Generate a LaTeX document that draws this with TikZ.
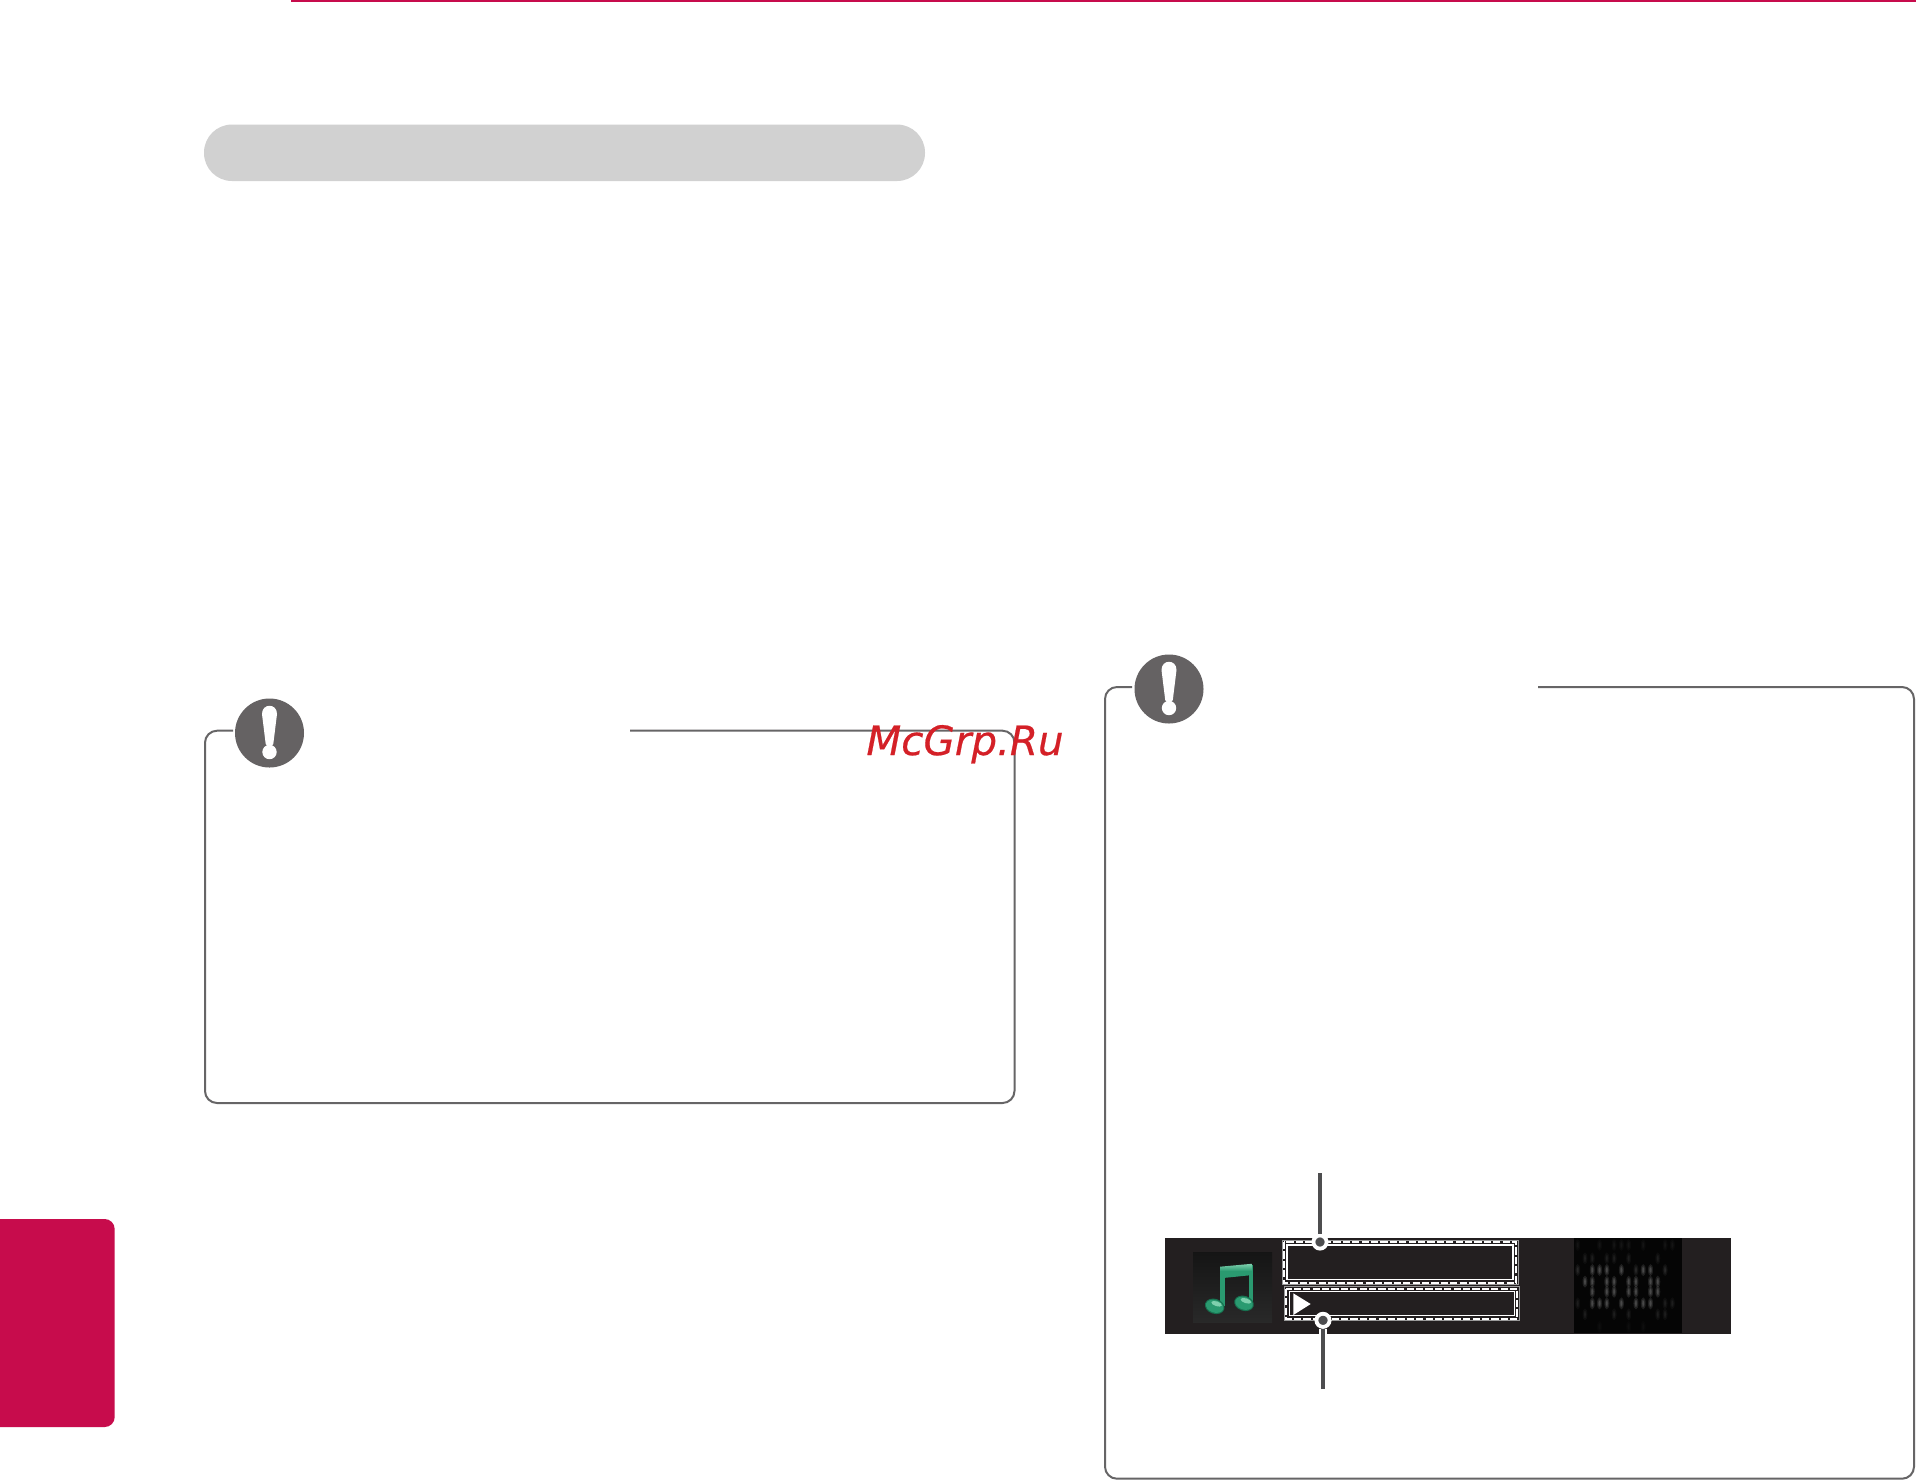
\documentclass[tikz,border=0pt]{standalone}
\usepackage{fontspec}
\usepackage{tikz}
\usetikzlibrary{shapes}
\newfontfamily\markfont[FakeBold=0.5]{DejaVu Sans}
\definecolor{crimson}{HTML}{C70C4C}
\definecolor{barfill}{HTML}{D1D1D1}
\definecolor{noteline}{HTML}{666566}
\definecolor{iconfill}{HTML}{656263}
\definecolor{stripfill}{HTML}{231F20}
\definecolor{calloutgray}{HTML}{4D4D4F}
\definecolor{notegreen}{HTML}{2A9A70}
\definecolor{notelight}{HTML}{7FD0AE}
\definecolor{notedark}{HTML}{17704F}
\definecolor{markred}{HTML}{D42027}
\tikzset{
	titlebar/.style={fill=barfill, rounded corners=14pt, inner sep=0pt, minimum width=360.5pt, minimum height=28.25pt},
	notebox/.style={noteline, line width=1pt, rounded corners=6pt},
	warnicon/.style={circle, fill=iconfill, inner sep=0pt, minimum size=34.5pt},
	strip/.style={fill=stripfill, inner sep=0pt, minimum width=283pt, minimum height=48pt},
	dashbox/.style={white, line width=1pt, dash pattern=on 3.6pt off 1.1pt},
	solidbox/.style={white, line width=.6pt},
	edgebox/.style={white!60!black, line width=.3pt},
	calloutdot/.style={circle, fill=calloutgray, draw=white, line width=1.9pt, inner sep=0pt, minimum size=6.6pt},
	calloutline/.style={calloutgray, line width=2pt},
	callouthalo/.style={white, line width=4.4pt},
	watermark/.style={markred, inner sep=0pt, font=\markfont\itshape\fontsize{20.2}{20.2}\selectfont}
}

\begin{document}
\begin{tikzpicture}[x=0.5pt, y=-0.5pt]

% all coordinates are pixels of the page, y runs downwards

\useasboundingbox (0, 0) rectangle (1916, 1480);
\fill[white] (0, 0) rectangle (1916, 1480);

\fill[crimson] (291, 0) rectangle (1916, 2); % top rule
\fill[crimson] (0, 1219) {[rounded corners=5pt] -- (114.7, 1219) -- (114.7, 1427)} -- (0, 1427) -- cycle; % side tab

\node[titlebar] (title bar) at (564.5, 152.75) {};

\foreach \ix/\iy/\iname in {269.5/733/left, 1169/689/right} {
	\node[warnicon] (icon \iname) at (\ix, \iy) {};
	\fill[white, shift={(\ix, \iy)}] (-3.8, 11) -- (-7.5, -19) .. controls (-7.5, -30) and (7.5, -30) .. (7.5, -19) -- (3.8, 11) .. controls (3, 14) and (-3, 14) .. (-3.8, 11) -- cycle; % bang
	\fill[white, shift={(\ix, \iy)}] (0, 19) circle [radius=7.2]; % bang dot
}

\draw[notebox] (233, 730.7) -- (205, 730.7) -- (205, 1103) -- (1014.5, 1103) -- (1014.5, 730.7) -- (630, 730.7); % left note
\draw[notebox] (1132, 687) -- (1105, 687) -- (1105, 1478.7) -- (1914, 1478.7) -- (1914, 687) -- (1538, 687); % right note

\node[strip] (music strip) at (1448, 1286) {};

% music icon
\shade[top color=black!92, bottom color=black!84] (1193, 1252) rectangle (1272, 1322);
\fill[notegreen] (1220, 1268) rectangle (1224.5, 1306); % left stem
\fill[notegreen] (1248.5, 1265) rectangle (1252.5, 1303); % right stem
\shade[top color=notelight, bottom color=notegreen, middle color=notegreen] (1220, 1266.7) -- (1252.5, 1263.7) -- (1252.5, 1275) -- (1220, 1278.3) -- cycle; % beam
\foreach \hx/\hy in {1214.7/1306.3, 1244/1303.3} {
	\fill[notedark, rotate around={-18:(\hx, \hy)}] (\hx, \hy) ellipse [x radius=10, y radius=7.5];
	\fill[notegreen, rotate around={-18:(\hx, \hy)}] (\hx, \hy) ellipse [x radius=9, y radius=6.3];
	\fill[notelight, rotate around={-18:(\hx, \hy)}] (\hx + 1, \hy - 3) ellipse [x radius=5.5, y radius=2.4];
}

% text boxes
\foreach \bxa/\bya/\bxb/\byb in {1282/1240/1518/1284.7, 1284.3/1286.7/1519.4/1320.7} {
	\draw[edgebox] (\bxa, \bya) rectangle (\bxb, \byb);
	\draw[dashbox] (\bxa + 2, \bya + 2) rectangle (\bxb - 2, \byb - 2);
	\draw[solidbox] (\bxa + 5, \bya + 5) rectangle (\bxb - 5, \byb - 5);
}
\fill[white] (1293.3, 1293.3) -- (1310.7, 1304) -- (1293.3, 1315) -- cycle; % play mark

% spectrum
\fill[black!98] (1574, 1238) rectangle (1682.3, 1333);
\foreach \sr/\so/\scols in {
	45/.025/{0,3,5,6,7,9,12,13},
	85/.035/{1,2,4,5,7,11},
	120/.1/{2,3,4,6,9,10},
	120/.05/{0,8,12},
	155/.1/{1,2,4,5,7,8,10,11},
	185/.1/{2,4,5,7,8,10,11},
	220/.1/{2,3,4,6,8,9,10},
	220/.035/{0,12,13},
	253/.035/{1,5,7,11,12},
	290/.015/{3,7,9}} {
	\foreach \sc in \scols {
		\fill[white, opacity=\so] ({1577.7 + 7.28 * \sc}, {1230 + \sr / 3}) ellipse [x radius=.8, y radius=2.5];
		\fill[white, opacity=\so] ({1577.7 + 7.28 * \sc}, {1230 + \sr / 3}) ellipse [x radius=1.5, y radius=4];
		\fill[white, opacity=\so] ({1577.7 + 7.28 * \sc}, {1230 + \sr / 3}) ellipse [x radius=2.5, y radius=6];
	}
}

% callouts
\node[calloutdot] (title dot) at (1320, 1242) {};
\node[calloutdot] (play dot) at (1323, 1320.3) {};
\coordinate (title end) at (1320, 1173);
\coordinate (play end) at (1323, 1389);
\coordinate (play under) at (1323, 1334);
\draw[callouthalo] (play dot) -- (play under);
\draw[calloutline] (title end) -- (title dot);
\draw[calloutline] (play end) -- (play dot);

\node[watermark, anchor=base west] (site mark) at (866, 755) {McGrp.Ru};

\end{tikzpicture}
\end{document}
